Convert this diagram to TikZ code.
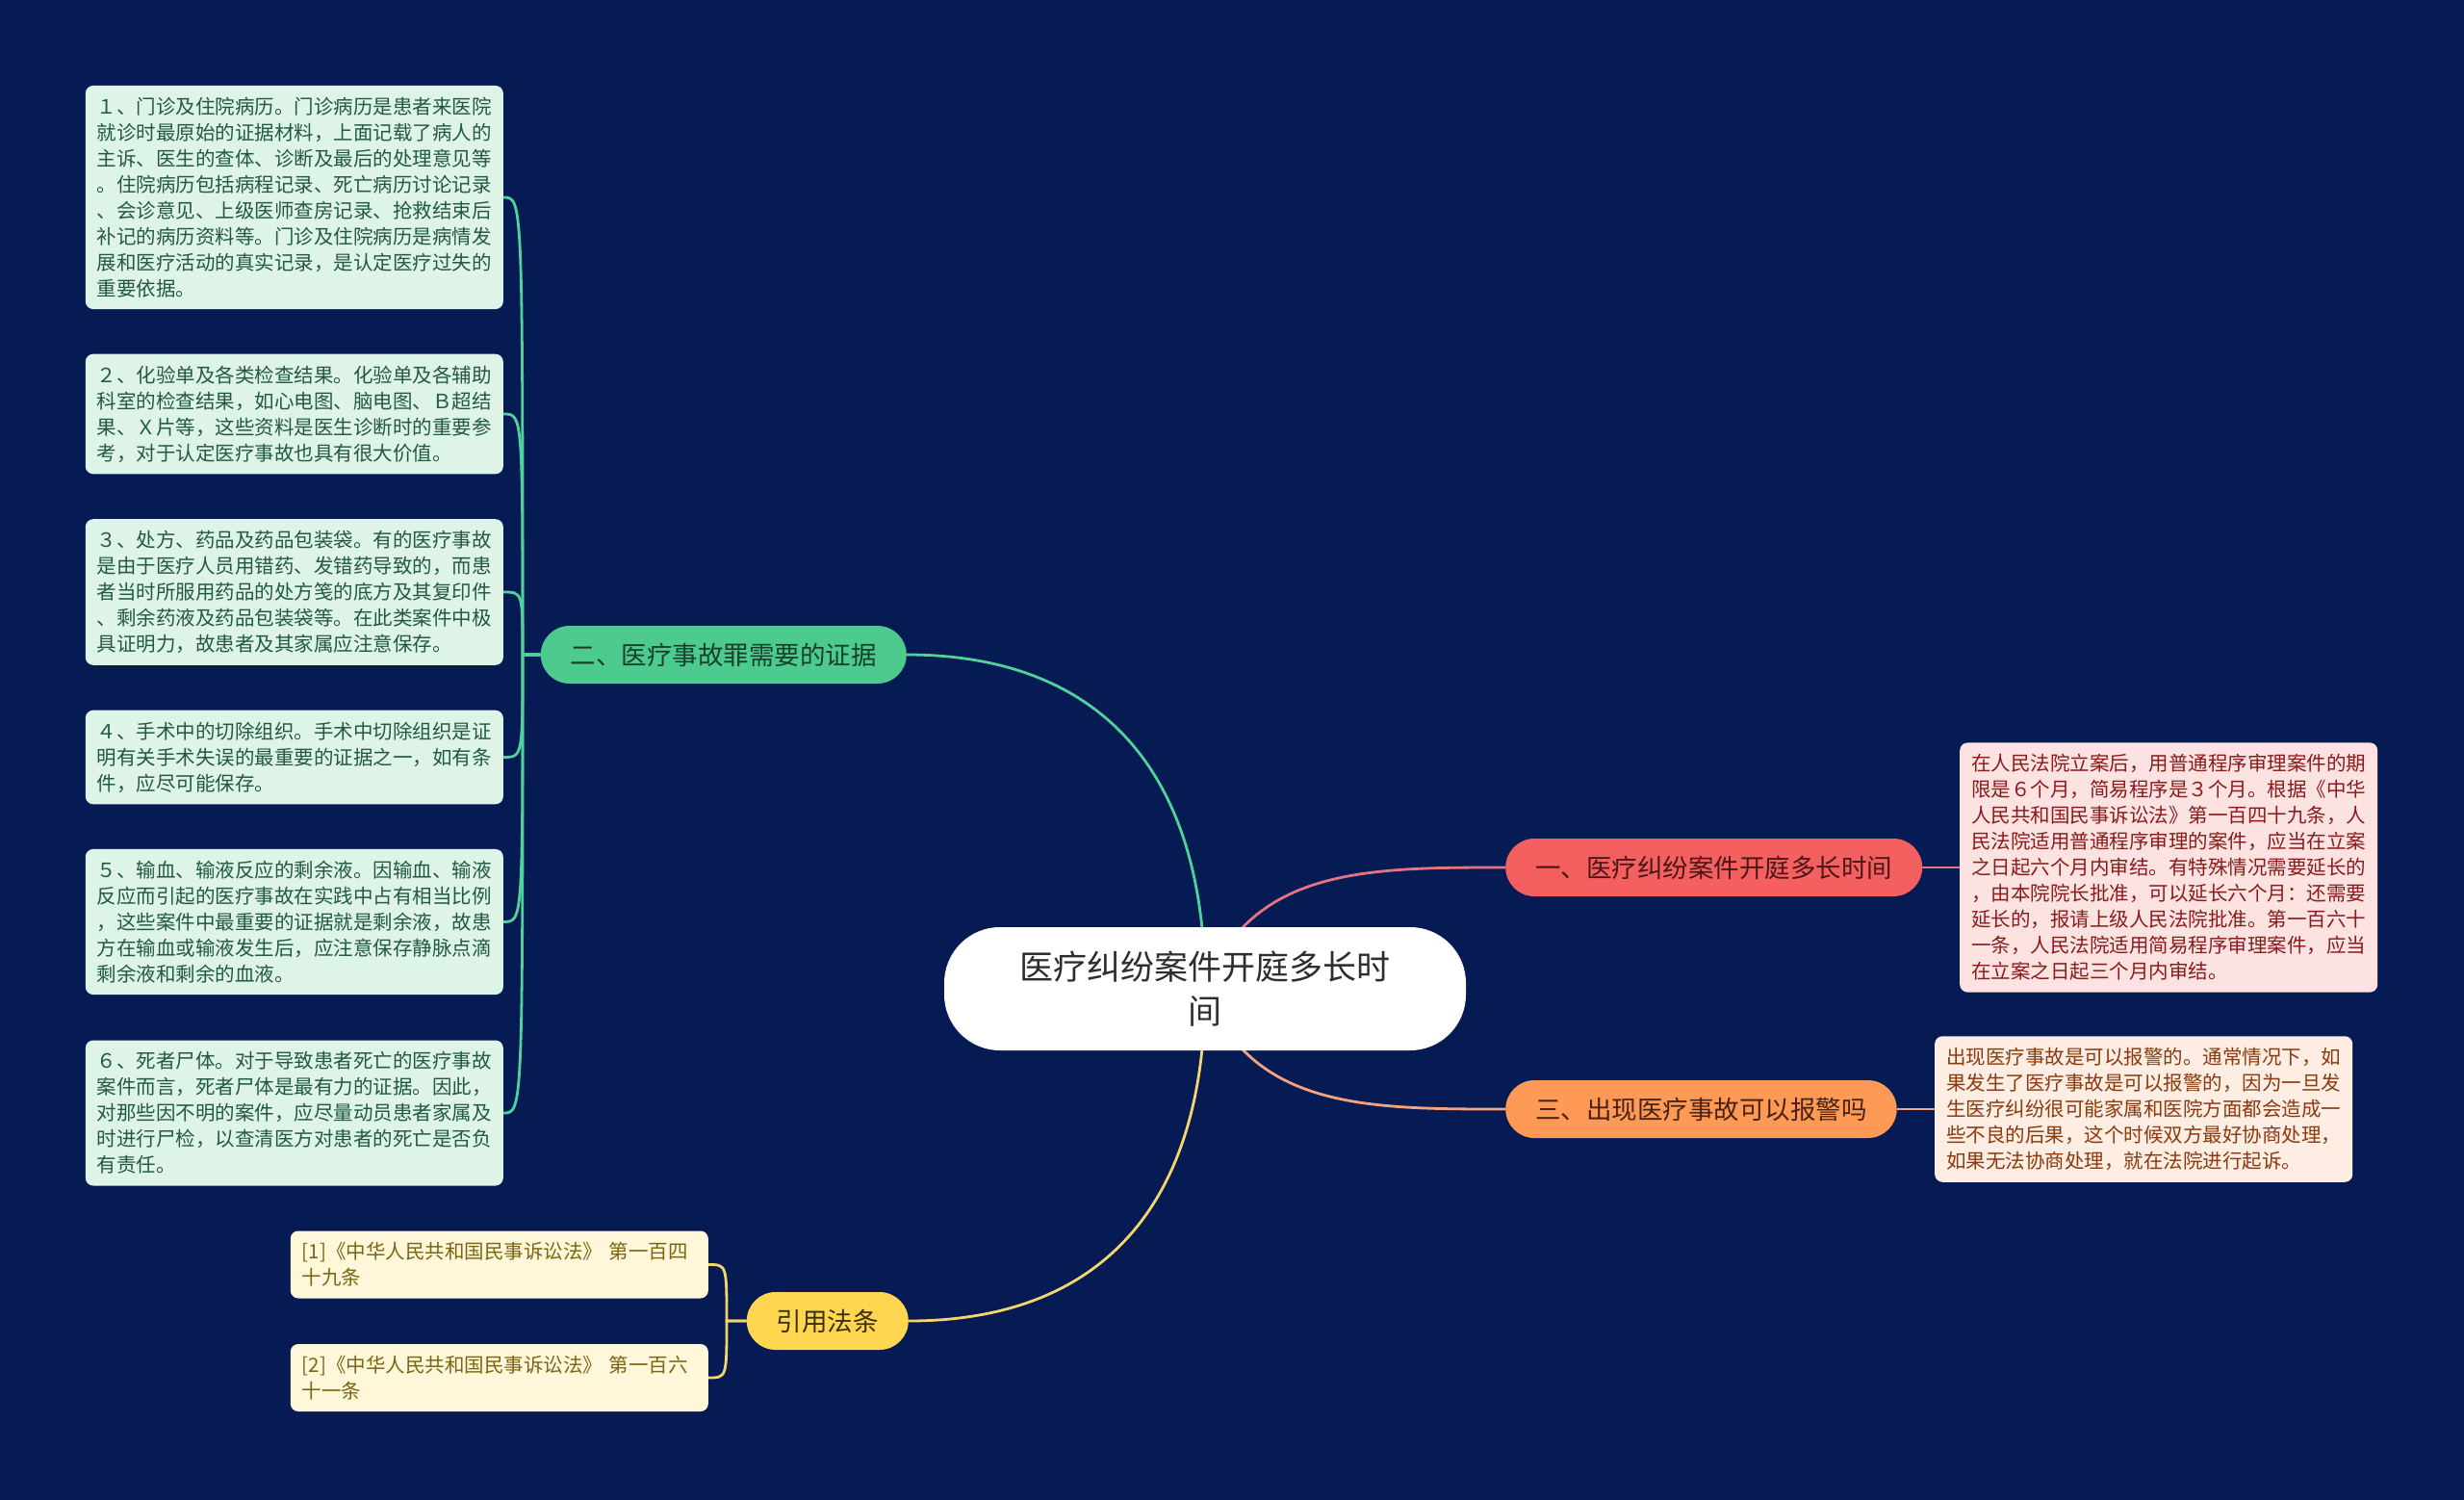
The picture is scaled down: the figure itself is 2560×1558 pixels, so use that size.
\documentclass[tikz,border=0pt]{standalone}
\usepackage{fontspec}
\setmainfont{Noto Sans CJK SC}
\usetikzlibrary{backgrounds}
\definecolor{NightBlue}{HTML}{061A54}
\definecolor{RootInk}{HTML}{2E2E2E}
\definecolor{GreenNode}{HTML}{4DCB8E}
\definecolor{GreenInk}{HTML}{173F2C}
\definecolor{GreenLine}{HTML}{4FD39A}
\definecolor{GreenLeaf}{HTML}{DEF4E9}
\definecolor{GreenLeafInk}{HTML}{235A3C}
\definecolor{RedNode}{HTML}{F46060}
\definecolor{RedInk}{HTML}{4A1616}
\definecolor{RedLine}{HTML}{E27484}
\definecolor{PinkLeaf}{HTML}{FDE2E2}
\definecolor{PinkInk}{HTML}{8A1B1B}
\definecolor{OrangeNode}{HTML}{FF9A56}
\definecolor{OrangeInk}{HTML}{4A2210}
\definecolor{OrangeLine}{HTML}{F4A37E}
\definecolor{PeachLeaf}{HTML}{FDEDE2}
\definecolor{PeachInk}{HTML}{8A3A0E}
\definecolor{YellowNode}{HTML}{FFD650}
\definecolor{YellowInk}{HTML}{3A3010}
\definecolor{YellowLine}{HTML}{F3D66C}
\definecolor{CreamLeaf}{HTML}{FFF7DA}
\definecolor{CreamInk}{HTML}{7B6512}

\begin{document}
\begin{tikzpicture}[x=1pt, y=1pt,
  root/.style={fill=white, rounded corners=58pt, minimum width=542pt, minimum height=128pt, text width=400pt, align=center, text=RootInk, font=\fontsize{35}{46}\selectfont},
  branch/.style={rounded corners=30pt, minimum height=60pt, inner xsep=31pt, inner ysep=0pt, font=\fontsize{26.5}{30}\selectfont},
  leaf/.style={rounded corners=8pt, inner sep=12pt, text width=410pt, align=left, font=\fontsize{20.5}{27}\selectfont},
  link/.style={line width=2.8pt}
]
\node[root] (root) at (1252,-1027) {医疗纠纷案件开庭多长时\\间};
\node[branch, fill=RedNode, text=RedInk, anchor=west] (b1) at (1564,-901) {一、医疗纠纷案件开庭多长时间};
\node[branch, fill=GreenNode, text=GreenInk, anchor=east] (b2) at (942,-680) {二、医疗事故罪需要的证据};
\node[branch, fill=OrangeNode, text=OrangeInk, anchor=west] (b3) at (1564,-1152) {三、出现医疗事故可以报警吗};
\node[branch, fill=YellowNode, text=YellowInk, anchor=east] (b4) at (944,-1372) {引用法条};

% evidence list
\node[leaf, fill=GreenLeaf, text=GreenLeafInk, anchor=east] (e1) at (523,-205) {１、门诊及住院病历。门诊病历是患者来医院\\就诊时最原始的证据材料，上面记载了病人的\\主诉、医生的查体、诊断及最后的处理意见等\\。住院病历包括病程记录、死亡病历讨论记录\\、会诊意见、上级医师查房记录、抢救结束后\\补记的病历资料等。门诊及住院病历是病情发\\展和医疗活动的真实记录，是认定医疗过失的\\重要依据。};
\node[leaf, fill=GreenLeaf, text=GreenLeafInk, anchor=east] (e2) at (523,-430) {２、化验单及各类检查结果。化验单及各辅助\\科室的检查结果，如心电图、脑电图、Ｂ超结\\果、Ｘ片等，这些资料是医生诊断时的重要参\\考，对于认定医疗事故也具有很大价值。};
\node[leaf, fill=GreenLeaf, text=GreenLeafInk, anchor=east] (e3) at (523,-615) {３、处方、药品及药品包装袋。有的医疗事故\\是由于医疗人员用错药、发错药导致的，而患\\者当时所服用药品的处方笺的底方及其复印件\\、剩余药液及药品包装袋等。在此类案件中极\\具证明力，故患者及其家属应注意保存。};
\node[leaf, fill=GreenLeaf, text=GreenLeafInk, anchor=east] (e4) at (523,-786.5) {４、手术中的切除组织。手术中切除组织是证\\明有关手术失误的最重要的证据之一，如有条\\件，应尽可能保存。};
\node[leaf, fill=GreenLeaf, text=GreenLeafInk, anchor=east] (e5) at (523,-957.5) {５、输血、输液反应的剩余液。因输血、输液\\反应而引起的医疗事故在实践中占有相当比例\\，这些案件中最重要的证据就是剩余液，故患\\方在输血或输液发生后，应注意保存静脉点滴\\剩余液和剩余的血液。};
\node[leaf, fill=GreenLeaf, text=GreenLeafInk, anchor=east] (e6) at (523,-1156) {６、死者尸体。对于导致患者死亡的医疗事故\\案件而言，死者尸体是最有力的证据。因此，\\对那些因不明的案件，应尽量动员患者家属及\\时进行尸检，以查清医方对患者的死亡是否负\\有责任。};

% right side
\node[leaf, fill=PinkLeaf, text=PinkInk, anchor=west] (p1) at (2036,-901) {在人民法院立案后，用普通程序审理案件的期\\限是６个月，简易程序是３个月。根据《中华\\人民共和国民事诉讼法》第一百四十九条，人\\民法院适用普通程序审理的案件，应当在立案\\之日起六个月内审结。有特殊情况需要延长的\\，由本院院长批准，可以延长六个月：还需要\\延长的，报请上级人民法院批准。第一百六十\\一条，人民法院适用简易程序审理案件，应当\\在立案之日起三个月内审结。};
\node[leaf, fill=PeachLeaf, text=PeachInk, anchor=west] (p3) at (2010,-1152) {出现医疗事故是可以报警的。通常情况下，如\\果发生了医疗事故是可以报警的，因为一旦发\\生医疗纠纷很可能家属和医院方面都会造成一\\些不良的后果，这个时候双方最好协商处理，\\如果无法协商处理，就在法院进行起诉。};

% cited laws
\node[leaf, fill=CreamLeaf, text=CreamInk, anchor=east] (r1) at (736,-1313.5) {[1]《中华人民共和国民事诉讼法》~第一百四\\十九条};
\node[leaf, fill=CreamLeaf, text=CreamInk, anchor=east] (r2) at (736,-1431) {[2]《中华人民共和国民事诉讼法》~第一百六\\十一条};

\coordinate (b2s) at (543,-680);
\coordinate (b4s) at (755,-1372);

\begin{scope}[on background layer]
\fill[NightBlue] (0,0) rectangle (2560,-1558);
\draw[link, GreenLine] (root.center) .. controls (1252,-802) and (1144,-680) .. (b2.east);
\draw[link, RedLine] (root.center) .. controls (1300,-901) and (1420,-901) .. (b1.west);
\draw[link, OrangeLine] (root.center) .. controls (1300,-1152) and (1420,-1152) .. (b3.west);
\draw[link, YellowLine] (root.center) .. controls (1252,-1252) and (1144,-1372) .. (b4.east);
\foreach \i in {1,...,6}
  \draw[link, GreenLine] (b2.west) -- (b2s) .. controls (b2s |- e\i.east) .. (e\i.east);
\foreach \i in {1,2}
  \draw[link, YellowLine] (b4.west) -- (b4s) .. controls (b4s |- r\i.east) .. (r\i.east);
\draw[link, RedLine] (b1.east) -- (p1.west);
\draw[link, OrangeLine] (b3.east) -- (p3.west);
\end{scope}
\end{tikzpicture}
\end{document}
